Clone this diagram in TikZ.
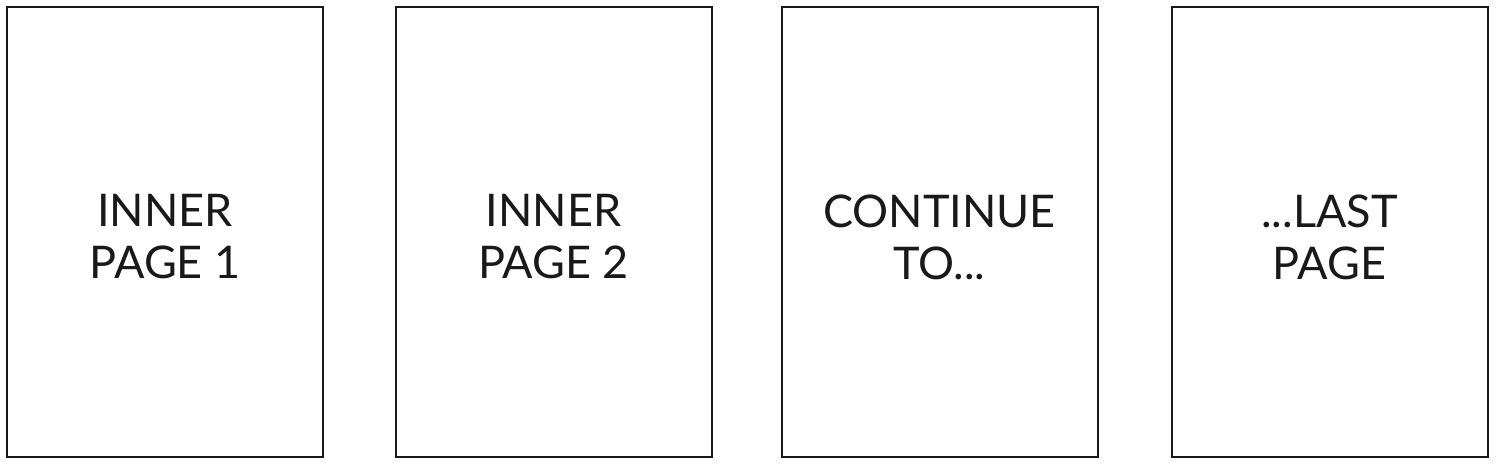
\documentclass[tikz,border=0pt]{standalone}
\usepackage{fontspec}
\setmainfont{Lato}
\begin{document}
\begin{tikzpicture}[x=1pt,y=1pt,
  pagebox/.style={draw=black!90,line width=2pt,minimum width=316pt,minimum height=450pt,inner sep=0pt},
  pagetext/.style={align=center,text=black!90,font=\fontsize{45}{52}\selectfont,yshift=-5pt}]
\useasboundingbox (0,0) rectangle (1496,466);
\node[pagebox] (page1) at (165,234) {};
\node[pagebox] (page2) at (553.5,234) {};
\node[pagebox] (page3) at (939.5,234) {};
\node[pagebox] (page4) at (1329.5,234) {};
\node[pagetext] (text1) at (page1.center) {INNER\\PAGE 1};
\node[pagetext] (text2) at (page2.center) {INNER\\PAGE 2};
\node[pagetext] (text3) at (page3.center) {CONTINUE\\TO...};
\node[pagetext] (text4) at (page4.center) {...LAST\\PAGE};
\end{tikzpicture}
\end{document}
